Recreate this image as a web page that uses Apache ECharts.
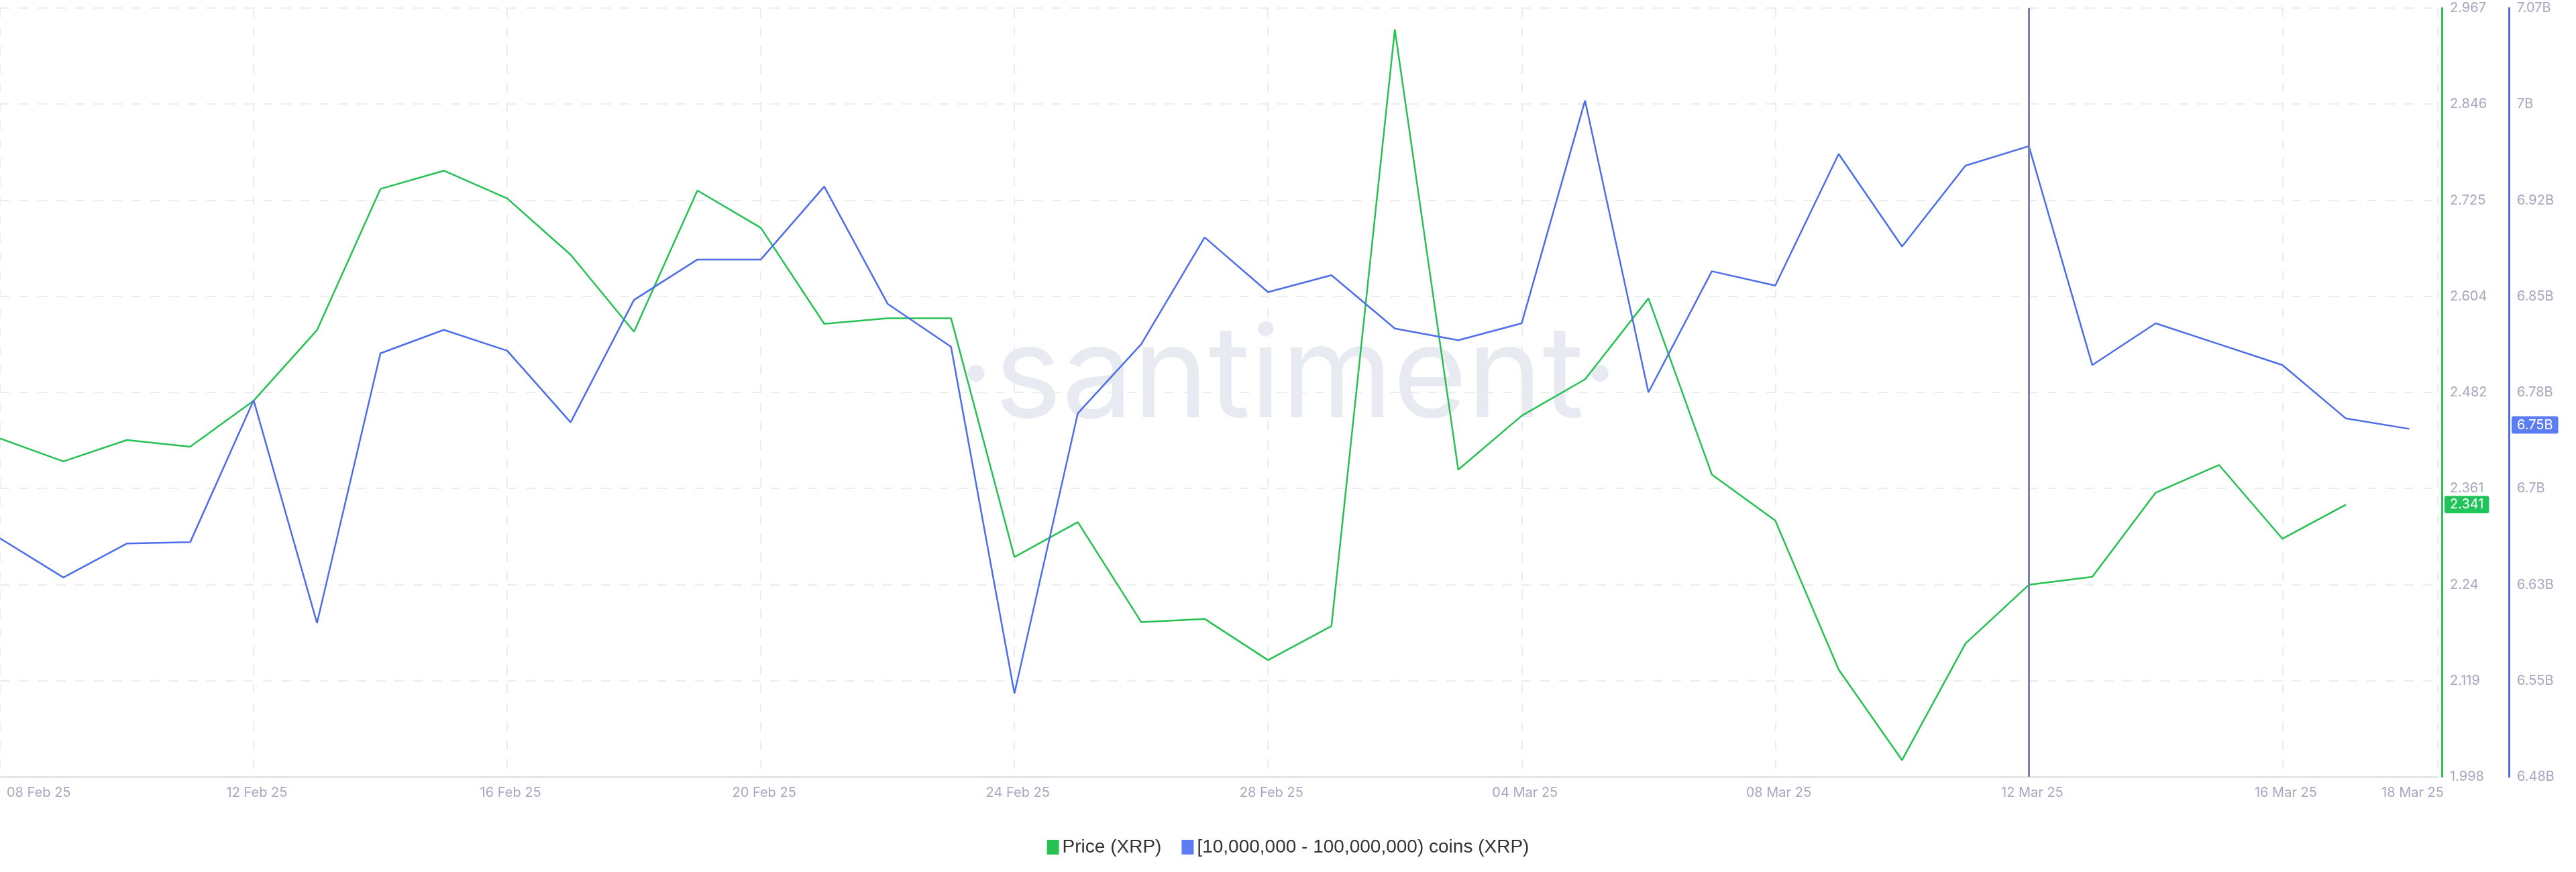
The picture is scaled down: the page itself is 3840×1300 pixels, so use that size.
<!DOCTYPE html>
<html><head><meta charset="utf-8">
<script src="https://cdn.jsdelivr.net/npm/echarts@6/dist/echarts.min.js"></script>
<style>html,body{margin:0;padding:0;background:#fff}#c{width:3840px;height:1300px}</style>
</head><body><div id="c"></div>
<script>
const startDate = '2025-02-08';
const priceXRP = [2.4245,2.3955,2.4225,2.414,2.472,2.561,2.739,2.762,2.727,2.656,2.559,2.737,2.690,2.569,2.576,2.576,2.275,2.319,2.193,2.197,2.145,2.188,2.940,2.385,2.453,2.499,2.601,2.379,2.321,2.133,2.019,2.166,2.240,2.250,2.356,2.391,2.298,2.341];
const holdings = [6.663,6.633,6.659,6.660,6.769,6.598,6.805,6.823,6.807,6.752,6.846,6.877,6.877,6.933,6.843,6.810,6.544,6.759,6.812,6.894,6.852,6.865,6.824,6.815,6.828,6.999,6.775,6.868,6.857,6.958,6.887,6.949,6.964,6.796,6.828,6.812,6.796,6.755,6.747];
const tickDays = [0,4,8,12,16,20,24,28,32,36,38];
const priceTicks = [1.998,2.119,2.24,2.361,2.482,2.604,2.725,2.846,2.967];
const holdTicks = ['6.48B','6.55B','6.63B','6.7B','6.78B','6.85B','6.92B','7B','7.07B'];

const t0 = Date.UTC(2025,1,8);
const priceData = priceXRP.map((v,i)=>[i, v]);
const holdData = holdings.map((v,i)=>[i, v*1e9]);
const mon = ['Jan','Feb','Mar','Apr','May','Jun','Jul','Aug','Sep','Oct','Nov','Dec'];
const fmtDay = v => { const d=new Date(t0+Math.round(v)*86400000); return String(d.getUTCDate()).padStart(2,'0')+' '+mon[d.getUTCMonth()]+' 25'; };
const labelColor = '#a4a9bf';
const pMin=1.998, pMax=2.967, hMin=6.48e9, hMax=7.07e9;

const chart = echarts.init(document.getElementById('c'));
chart.setOption({
  animation:false,
  textStyle:{fontFamily:'Inter'},
  graphic:[{type:'text', left:'center', top:470, style:{text:'·santiment·', fontSize:190, fontFamily:'Inter', fill:'rgba(190,196,216,0.35)'}}],
  legend:{bottom:18, left:'center', itemWidth:18, itemHeight:22, itemGap:30, icon:'rect',
    textStyle:{fontSize:28, color:'#333', fontFamily:'Liberation Sans Narrow, Liberation Sans'},
    data:['Price (XRP)','[10,000,000 - 100,000,000) coins (XRP)']},
  grid:{left:0, right:206, top:12, bottom:142, outerBoundsMode:'none', containLabel:false},
  xAxis:{type:'value', min:0, max:38.45, interval:4,
    axisLine:{onZero:false, lineStyle:{color:'#e8e8e8', width:3}},
    axisTick:{show:false},
    splitLine:{show:true, lineStyle:{color:'#ececec', type:[14,14], width:2}},
    axisLabel:{customValues:tickDays, formatter:fmtDay, color:labelColor, fontSize:20, margin:14,
      showMinLabel:true, alignMinLabel:'left', padding:[0,0,0,10]}},
  yAxis:[
    {type:'value', position:'right', min:pMin, max:pMax, interval:(pMax-pMin)/8, offset:6,
      axisLine:{show:true, onZero:false, lineStyle:{color:'#2cc35a', width:3}},
      axisTick:{show:false},
      splitLine:{show:true, lineStyle:{color:'#ececec', type:[14,14], width:2}},
      axisLabel:{color:labelColor, fontSize:20, margin:12, formatter:(v,i)=>priceTicks[i]},
      axisPointer:{show:true, value:2.341, status:'show', triggerTooltip:false, triggerOn:'none', lineStyle:{opacity:0},
        label:{backgroundColor:'#21c45a', color:'#fff', fontSize:20, padding:[3,8], formatter:'2.341', margin:4}}},
    {type:'value', position:'right', min:hMin, max:hMax, interval:(hMax-hMin)/8, offset:106,
      axisLine:{show:true, onZero:false, lineStyle:{color:'#5072d8', width:3}},
      axisTick:{show:false}, splitLine:{show:false},
      axisLabel:{color:labelColor, fontSize:20, margin:12, formatter:(v,i)=>holdTicks[i]},
      axisPointer:{show:true, value:6.75e9, status:'show', triggerTooltip:false, triggerOn:'none', lineStyle:{opacity:0},
        label:{backgroundColor:'#5b7cf3', color:'#fff', fontSize:20, padding:[3,8], formatter:'6.75B', margin:4}}}
  ],
  series:[
    {name:'Price (XRP)', type:'line', yAxisIndex:0, data:priceData, symbol:'none',
      lineStyle:{color:'#26c152', width:2.5}, itemStyle:{color:'#26c152'},
      markLine:{silent:true, symbol:'none', label:{show:false},
        lineStyle:{color:'#7d7fb8', width:3, type:'solid'}, data:[{xAxis:32}]}},
    {name:'[10,000,000 - 100,000,000) coins (XRP)', type:'line', yAxisIndex:1, data:holdData, symbol:'none',
      lineStyle:{color:'#4d6ee8', width:2.5}, itemStyle:{color:'#5b7cf3'}}
  ]
});
</script></body></html>
